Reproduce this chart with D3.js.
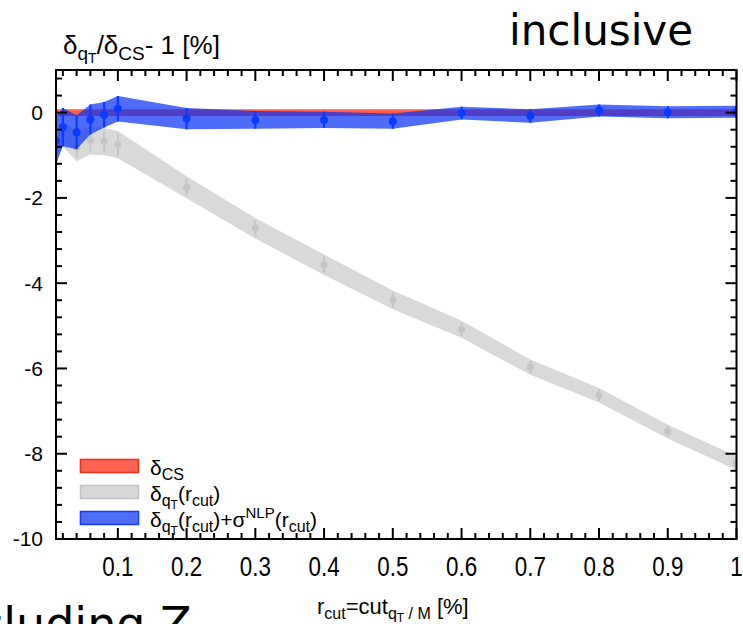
<!DOCTYPE html>
<html>
<head>
<meta charset="utf-8">
<script src="https://cdn.jsdelivr.net/npm/d3@7"></script>
<style>
  html, body { margin: 0; padding: 0; background: #fff; }
  svg { display: block; }
</style>
</head>
<body>
<svg id="chart" width="743" height="624"></svg>
<script>
// r_cut values (in %) at which the slicing was evaluated
const rcut = [0.01, 0.02, 0.04, 0.06, 0.08, 0.1, 0.2, 0.3, 0.4, 0.5, 0.6, 0.7, 0.8, 0.9, 1.0];

// delta_CS: reference band around zero
const csCentral = [0, 0, 0, 0, 0, 0, 0, 0, 0, 0, 0, 0, 0, 0, 0];
const csErr     = [0.08, 0.08, 0.08, 0.08, 0.08, 0.08, 0.08, 0.08, 0.08, 0.08, 0.08, 0.08, 0.08, 0.08, 0.08];

// delta_qT(r_cut): slicing result without power corrections
const qtCentral = [-0.72, -0.5, -0.8, -0.65, -0.68, -0.75, -1.75, -2.71, -3.57, -4.39, -5.08, -5.97, -6.63, -7.48, -8.22];
const qtErr     = [0.3, 0.3, 0.34, 0.33, 0.32, 0.32, 0.26, 0.24, 0.24, 0.22, 0.2, 0.18, 0.17, 0.16, 0.16];

// delta_qT(r_cut) + sigma^NLP(r_cut): with next-to-leading power corrections
const nlpCentral = [-0.66, -0.34, -0.46, -0.16, -0.05, 0.09, -0.14, -0.17, -0.17, -0.2, -0.01, -0.08, 0.05, 0.01, 0.02];
const nlpErr     = [0.55, 0.45, 0.4, 0.35, 0.3, 0.3, 0.25, 0.21, 0.19, 0.18, 0.15, 0.16, 0.14, 0.14, 0.14];

// axis ticks
const xTickValues = [0.1, 0.2, 0.3, 0.4, 0.5, 0.6, 0.7, 0.8, 0.9, 1.0];
const xTickLabels = ["0.1", "0.2", "0.3", "0.4", "0.5", "0.6", "0.7", "0.8", "0.9", "1"];
const yTickValues = [-10, -8, -6, -4, -2, 0];
const yTickLabels = ["-10", "-8", "-6", "-4", "-2", "0"];

const svg = d3.select("#chart");
const pL = 56, pR = 736.5, pT = 70, pB = 539;

const x = d3.scaleLinear().domain([0.01, 1.0]).range([pL, pR]);
const y = d3.scaleLinear().domain([-10, 1]).range([pB, pT]);

const rows = (c, e) => rcut.map((r, i) => ({ r, c: c[i], e: e[i] }));
const qtRows = rows(qtCentral, qtErr);
const csRows = rows(csCentral, csErr);
const nlpRows = rows(nlpCentral, nlpErr);

const band = d3.area()
  .x(d => x(d.r))
  .y0(d => y(d.c - d.e))
  .y1(d => y(d.c + d.e));

// plot area clip
svg.append("defs").append("clipPath").attr("id", "plotClip")
  .append("rect").attr("x", pL).attr("y", pT)
  .attr("width", pR - pL).attr("height", pB - pT);

const plot = svg.append("g").attr("clip-path", "url(#plotClip)");

// grey band: delta_qT(r_cut)
plot.append("path").datum(qtRows)
  .attr("d", band)
  .attr("fill", "#d9d9d9");

plot.append("g").selectAll("line").data(qtRows).join("line")
  .attr("x1", d => x(d.r)).attr("x2", d => x(d.r))
  .attr("y1", d => y(d.c - d.e * 0.8)).attr("y2", d => y(d.c + d.e * 0.8))
  .attr("stroke", "#c6c6c6").attr("stroke-width", 2);
plot.append("g").selectAll("circle").data(qtRows).join("circle")
  .attr("cx", d => x(d.r)).attr("cy", d => y(d.c)).attr("r", 3.5)
  .attr("fill", "#c6c6c6");

// red band: delta_CS
plot.append("path").datum(csRows)
  .attr("d", band)
  .attr("fill", "#ff6248");

// blue band: with NLP corrections
plot.append("path").datum(nlpRows)
  .attr("d", band)
  .attr("fill", "rgb(8,50,248)")
  .attr("fill-opacity", 0.71);

plot.append("g").selectAll("line").data(nlpRows).join("line")
  .attr("x1", d => x(d.r)).attr("x2", d => x(d.r))
  .attr("y1", d => y(d.c - d.e)).attr("y2", d => y(d.c + d.e))
  .attr("stroke", "#0a3cff").attr("stroke-width", 2.2);
plot.append("g").selectAll("circle").data(nlpRows).join("circle")
  .attr("cx", d => x(d.r)).attr("cy", d => y(d.c)).attr("r", 4)
  .attr("fill", "#0a3cff");

// inward ticks on all four sides
const xMinor = d3.range(0.02, 1.0, 0.02).filter(v => Math.abs(v * 10 - Math.round(v * 10)) > 1e-6);
const yMinor = d3.range(-10, 1.0001, 0.4).filter(v => Math.abs(v / 2 - Math.round(v / 2)) > 1e-6);
const majorLen = 11, minorLen = 6;

const tickLayer = svg.append("g");
function tickLines(data, x1, x2, y1, y2) {
  tickLayer.append("g").selectAll("line").data(data).join("line")
    .attr("x1", x1).attr("x2", x2).attr("y1", y1).attr("y2", y2)
    .attr("stroke", "#000").attr("stroke-width", 2);
}
function xTicks(values, len) {
  tickLines(values, d => x(d), d => x(d), pB, pB - len);
  tickLines(values, d => x(d), d => x(d), pT, pT + len);
}
function yTicks(values, len) {
  tickLines(values, pL, pL + len, d => y(d), d => y(d));
  tickLines(values, pR, pR - len, d => y(d), d => y(d));
}
xTicks(xTickValues, majorLen);
xTicks(xMinor, minorLen);
yTicks(yTickValues, majorLen);
yTicks(yMinor, minorLen);

const font = "'Liberation Sans', Arial, sans-serif";

// tick labels
svg.append("g").selectAll("text").data(xTickValues).join("text")
  .attr("transform", d => `translate(${x(d)},${pB + 37}) scale(0.8,1)`)
  .attr("text-anchor", "middle")
  .attr("font-family", font).attr("font-size", 28).attr("fill", "#000")
  .text((d, i) => xTickLabels[i]);
svg.append("g").selectAll("text").data(yTickValues).join("text")
  .attr("x", pL - 13).attr("y", d => y(d)).attr("dy", "0.35em")
  .attr("text-anchor", "end")
  .attr("font-family", font).attr("font-size", 21).attr("fill", "#000")
  .text((d, i) => yTickLabels[i]);

// frame
svg.append("rect")
  .attr("x", pL).attr("y", pT)
  .attr("width", pR - pL).attr("height", pB - pT)
  .attr("fill", "none").attr("stroke", "#000").attr("stroke-width", 2);

// y axis title: delta_qT / delta_CS - 1 [%]
const yt = svg.append("text").attr("x", 63).attr("y", 54)
  .attr("font-family", font).attr("font-size", 26).attr("fill", "#000");
yt.append("tspan").text("δ");
yt.append("tspan").attr("font-size", 19).attr("dy", 6).text("q");
yt.append("tspan").attr("font-size", 14).attr("dy", 3).text("T");
yt.append("tspan").attr("dy", -9).text("/δ");
yt.append("tspan").attr("font-size", 19).attr("dy", 6).text("CS");
yt.append("tspan").attr("dy", -6).text("- 1 [%]");

// x axis title: r_cut = cut_{qT / M} [%]
const xt = svg.append("text").attr("x", 317).attr("y", 614)
  .attr("font-family", font).attr("font-size", 22).attr("fill", "#000");
xt.append("tspan").text("r");
xt.append("tspan").attr("font-size", 16).attr("dy", 5).text("cut");
xt.append("tspan").attr("dy", -5).text("=cut");
xt.append("tspan").attr("font-size", 16).attr("dy", 5).text("q");
xt.append("tspan").attr("font-size", 12).attr("dy", 3).text("T");
xt.append("tspan").attr("font-size", 16).attr("dy", -3).text(" / M");
xt.append("tspan").attr("dy", -5).text(" [%]");

// legend
const legend = [
  { fill: "#ff6450", stroke: "#e8341e", parts: [["δ", 0], ["CS", 1]] },
  { fill: "#d8d8d8", stroke: "#c4c4c4", parts: [["δ", 0], ["q", 1], ["T", 2], ["(r", 0], ["cut", 1], [")", 0]] },
  { fill: "#4d6ff8", stroke: "#2040ee", parts: [["δ", 0], ["q", 1], ["T", 2], ["(r", 0], ["cut", 1], [")+σ", 0], ["NLP", 3], ["(r", 0], ["cut", 1], [")", 0]] }
];
const lg = svg.append("g");
legend.forEach((item, i) => {
  const yy = 459 + i * 26;
  lg.append("rect").attr("x", 80.5).attr("y", yy + 0.5).attr("width", 58).attr("height", 13)
    .attr("fill", item.fill).attr("stroke", item.stroke).attr("stroke-width", 1.6);
  const t = lg.append("text").attr("x", 150).attr("y", yy + 16)
    .attr("font-family", font).attr("font-size", 21).attr("fill", "#000");
  let level = 0;
  const offs = [0, 5, 8, -9];
  const sizes = [21, 16, 12, 15];
  item.parts.forEach(([s, lv]) => {
    t.append("tspan").attr("font-size", sizes[lv]).attr("dy", offs[lv] - offs[level]).text(s);
    level = lv;
  });
});

// slide text around the chart
const slideFont = "'DejaVu Sans', sans-serif";
svg.append("text").attr("x", 693).attr("y", 45).attr("text-anchor", "end")
  .attr("font-family", slideFont).attr("font-size", 42).attr("fill", "#000")
  .text("inclusive");
svg.append("text").attr("x", -64).attr("y", 640)
  .attr("font-family", slideFont).attr("font-size", 46).attr("fill", "#000")
  .text("including Z");
</script>
</body>
</html>
